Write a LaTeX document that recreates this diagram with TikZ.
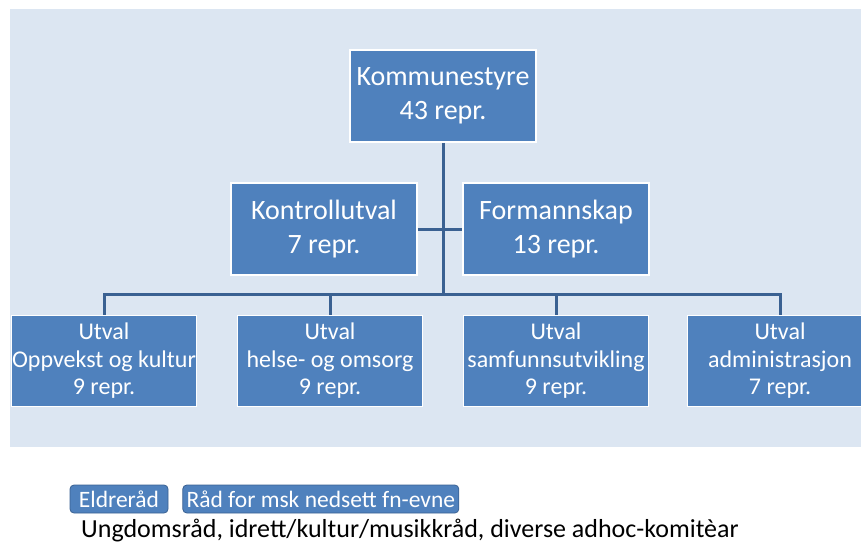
\documentclass[tikz,border=0pt]{standalone}
\usepackage{fontspec}
\setmainfont{Carlito}
\usepackage{xcolor}
\usepackage{tikz}
\usetikzlibrary{positioning}

\definecolor{boxblue}{HTML}{4F81BD}
\definecolor{panelblue}{HTML}{DCE6F2}
\definecolor{linkblue}{HTML}{3A6192}

\begin{document}
\begin{tikzpicture}[x=1pt,y=-1pt,
  box/.style={draw=white,line width=1.5pt,fill=boxblue,text=white,align=center,inner sep=0pt},
  bigbox/.style={box,minimum width=186pt,minimum height=92pt,font=\fontsize{28}{34}\selectfont},
  utvalbox/.style={box,minimum width=185pt,minimum height=91pt,font=\fontsize{24}{27.5}\selectfont},
  tag/.style={draw=linkblue,line width=0.8pt,fill=boxblue,text=white,rounded corners=4pt,
    minimum height=28pt,inner sep=0pt,font=\fontsize{23.5}{25}\selectfont},
  link/.style={draw=linkblue,line width=3pt}]
  \clip (0,0) rectangle (861,543);
  \fill[panelblue] (10,9) rectangle (861,447);

  % top level
  \node[bigbox] (kommune) at (443,96) {Kommunestyre\\43 repr.};
  \node[bigbox] (kontroll) at (324,229) {Kontrollutval\\7 repr.};
  \node[bigbox] (formann) at (556,229) {Formannskap\\13 repr.};

  % utval
  \node[utvalbox] (utval1) at (104,361) {Utval\\Oppvekst og kultur\\9 repr.};
  \node[utvalbox] (utval2) at (330,361) {Utval\\helse- og omsorg\\9 repr.};
  \node[utvalbox] (utval3) at (556,361) {Utval\\samfunnsutvikling\\9 repr.};
  \node[utvalbox] (utval4) at (780,361) {Utval\\administrasjon\\7 repr.};

  \coordinate (hub) at (443,294);
  \draw[link] (kommune.south) -- (hub);
  \draw[link] (kontroll.east) -- (formann.west);
  \foreach \n in {utval1,utval2,utval3,utval4}
    \draw[link] (hub) -| (\n.north);

  % raad
  \node[tag,minimum width=98pt] (eldre) at (119,499) {Eldreråd};
  \node[tag,minimum width=276pt,right=14pt of eldre] (raad) {Råd for msk nedsett fn-evne};
  \node[anchor=base west,inner sep=0pt,font=\fontsize{26}{30}\selectfont] (andre) at (81,537)
    {Ungdomsråd, idrett/kultur/musikkråd, diverse adhoc-komitèar};
\end{tikzpicture}
\end{document}
